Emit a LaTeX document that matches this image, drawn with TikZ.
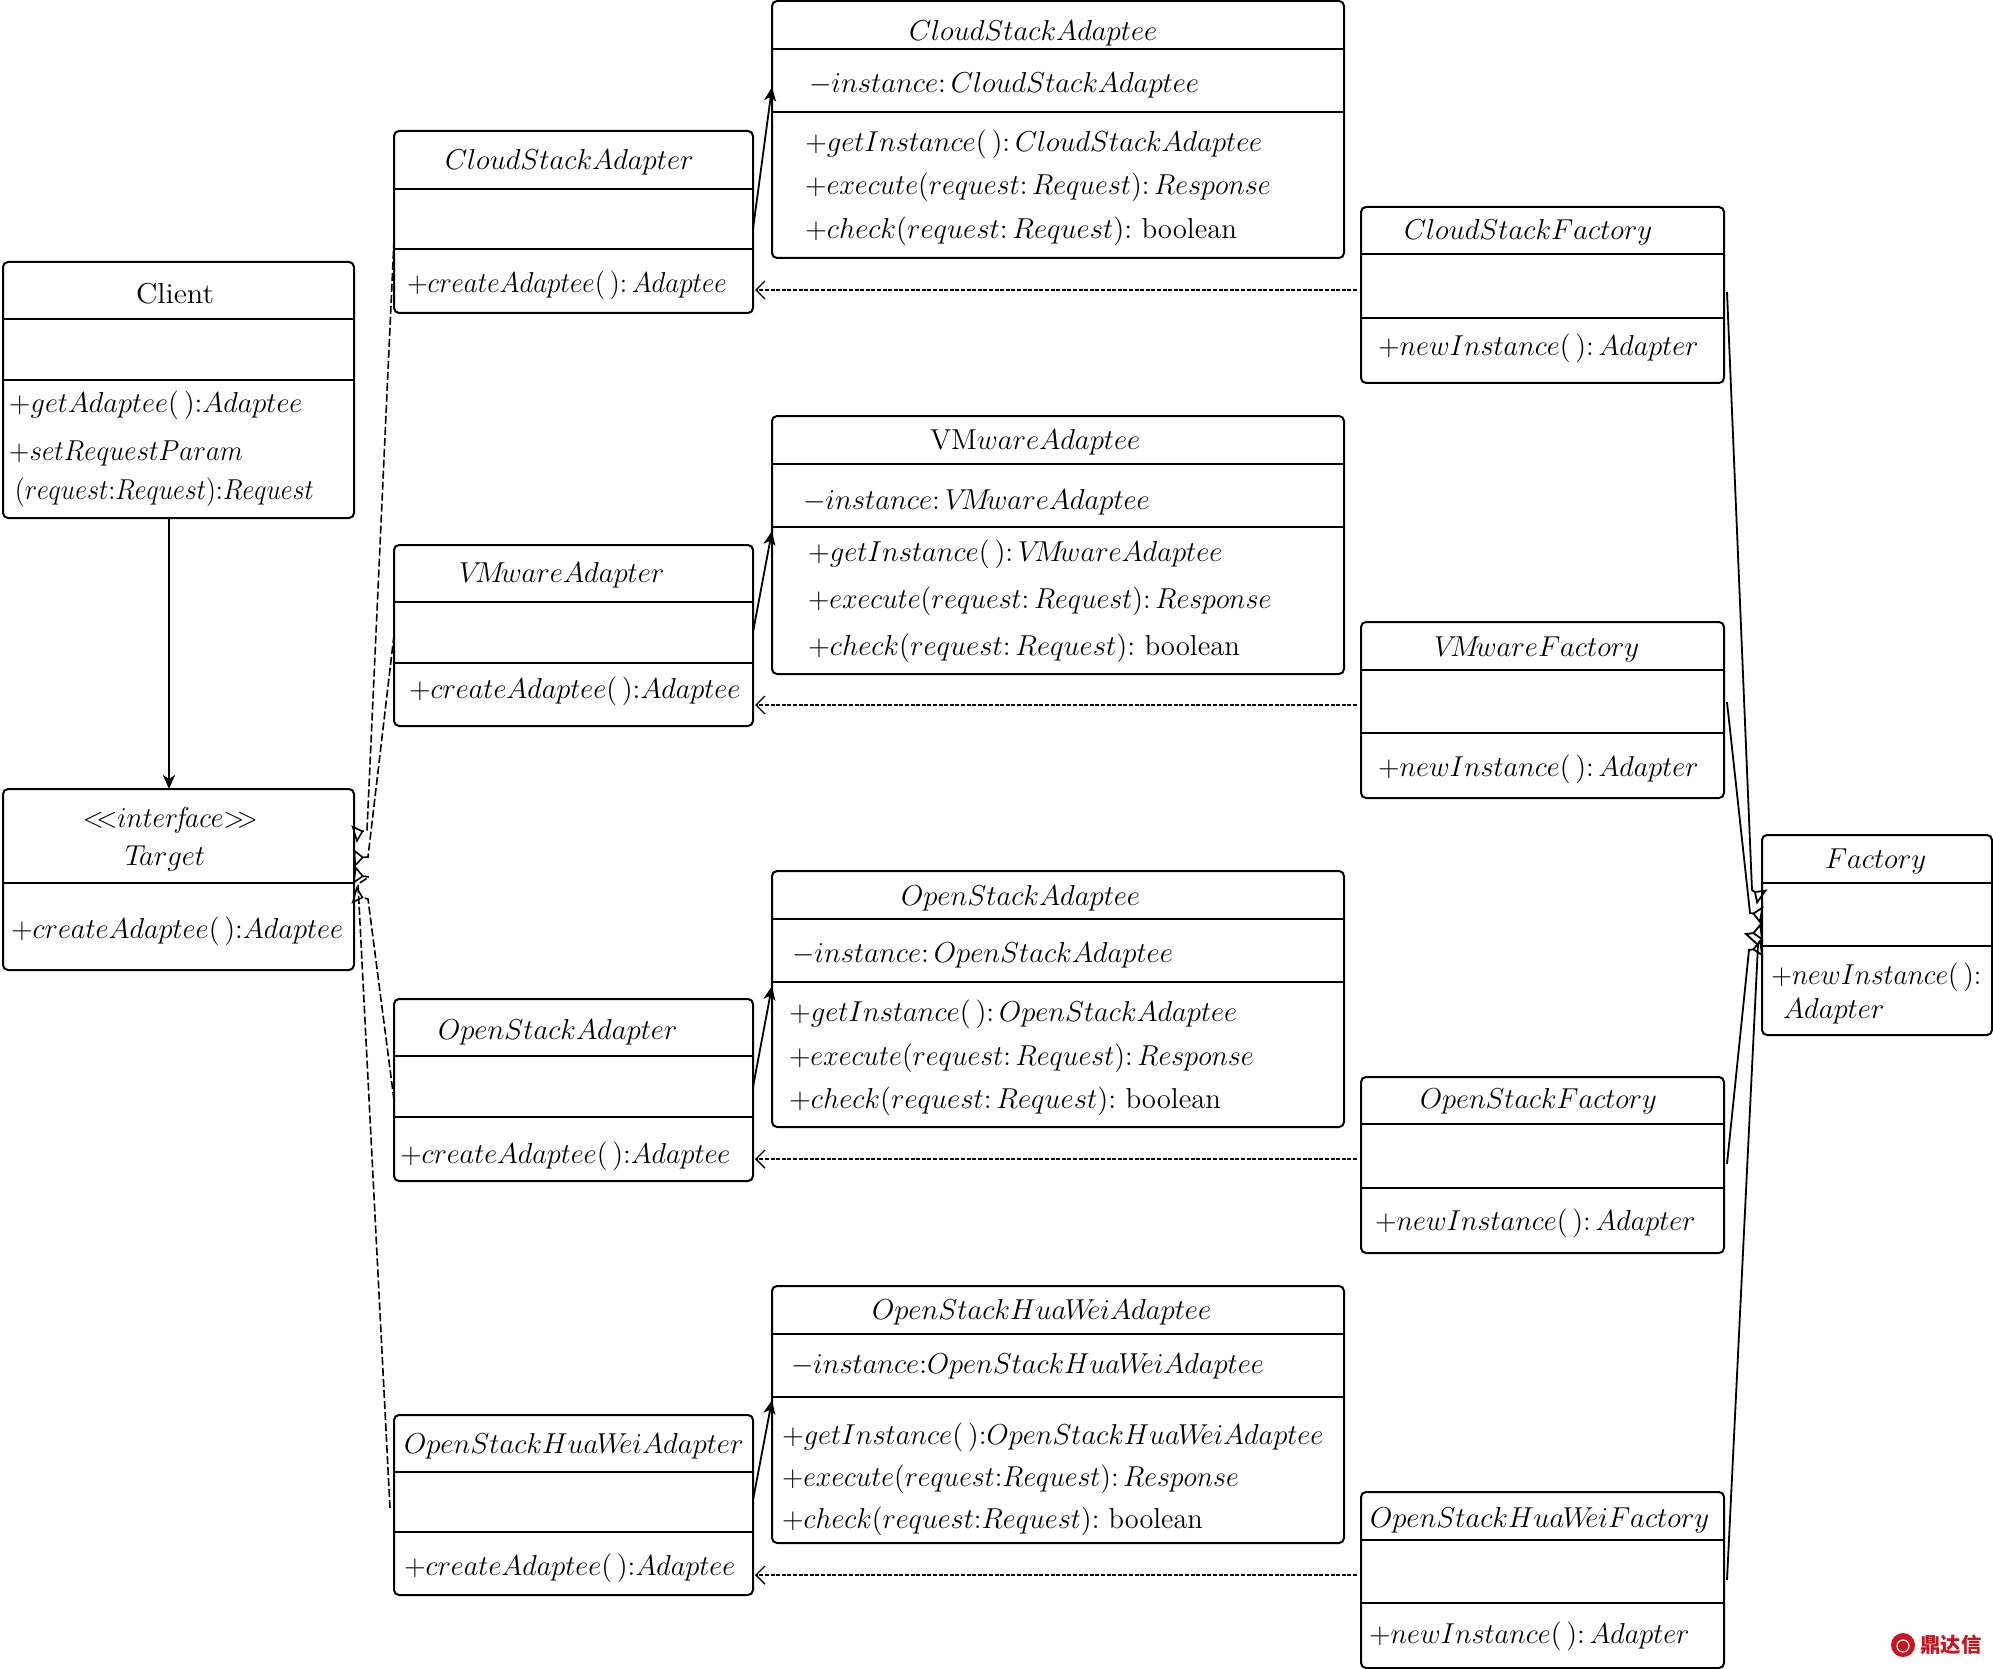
\documentclass[tikz,border=0pt]{standalone}
\usepackage{fontspec}
\usetikzlibrary{arrows.meta,fit}
\newfontfamily\cjk{Noto Sans CJK SC}
\definecolor{markred}{RGB}{200,20,30}
% class box: name, left, right, top, first rule, second rule, bottom
\newcommand{\umlbox}[7]{%
    \node[boxshape,fit={(#2,#4) (#3,#7)}] (#1) {};
    \draw[boxrule] (#2,#5) -- (#3,#5);
    \draw[boxrule] (#2,#6) -- (#3,#6);
}
% tighter spellings of what the plain math spacing leaves too wide
\newcommand{\sep}{\mkern3mu}
\newcommand{\VMw}{V\mkern-4mu M\mkern-3mu ware}
\newcommand{\HW}{Hua\mkern-1mu W\mkern-5mu ei}
\newcommand{\thin}[2]{\scalebox{#1}[1]{#2}}
\begin{document}
\begin{tikzpicture}[x=0.5pt,y=-0.5pt,
        boxshape/.style={draw,rounded corners=2.5pt,line width=1pt,inner sep=0pt,outer sep=0pt},
        boxrule/.style={line width=1pt},
        lab/.style={anchor=base west,inner sep=0pt,outer sep=0pt,font=\fontsize{14.4}{17}\selectfont},
        solidarrow/.style={line width=0.9pt,-{Stealth[length=7pt,width=6pt,inset=2pt]}},
        dasharrow/.style={line width=0.7pt,dash pattern=on 2pt off 0.8pt,-{Straight Barb[length=4.5pt,width=9pt]}},
        realize/.style={line width=0.8pt,dash pattern=on 4pt off 1.5pt,-{Triangle[open,reversed,length=5pt,width=9pt]}},
        inherit/.style={line width=0.9pt,-{Triangle[open,reversed,length=5pt,width=9pt]}}]
\useasboundingbox (0,0) rectangle (1993,1669);

\umlbox{client}{3}{354}{262}{319}{380}{518}
\umlbox{target}{3}{354}{789}{883}{883}{970}
\umlbox{cloudadapter}{394}{753}{131}{189}{249}{313}
\umlbox{vmwareadapter}{394}{753}{545}{602}{663}{726}
\umlbox{openadapter}{394}{753}{999}{1056}{1117}{1181}
\umlbox{huaweiadapter}{394}{753}{1415}{1472}{1532}{1595}
\umlbox{cloudadaptee}{772}{1344}{1}{49}{112}{258}
\umlbox{vmwareadaptee}{772}{1344}{416}{464}{527}{674}
\umlbox{openadaptee}{772}{1344}{871}{919}{982}{1127}
\umlbox{huaweiadaptee}{772}{1344}{1286}{1334}{1397}{1543}
\umlbox{cloudfactory}{1361}{1724}{207}{254}{318}{383}
\umlbox{vmwarefactory}{1361}{1724}{622}{670}{733}{798}
\umlbox{openfactory}{1361}{1724}{1077}{1124}{1188}{1253}
\umlbox{huaweifactory}{1361}{1724}{1492}{1540}{1603}{1668}
\umlbox{factory}{1762}{1992}{835}{883}{946}{1035}

\node[lab] (clienttitle) at (136,304) {\thin{1.05}{Client}};
\node[lab] (clientget) at (9,412) {\thin{0.99}{$+getAdaptee(\,){:}Adaptee$}};
\node[lab] (clientset) at (9,460) {\thin{0.94}{$+setRequestParam$}};
\node[lab] (clientparam) at (15,499) {\thin{0.9}{$(request{:}Request){:}Request$}};

\node[lab] (targetstereo) at (83,827) {\thin{0.96}{${<}\mkern-5mu{<}inter\mkern-3mu f\mkern-3mu ace{>}\mkern-5mu{>}$}};
\node[lab] (targettitle) at (125,865) {$T\mkern-4mu arget$};
\node[lab] (targetop) at (11,938) {\thin{0.99}{$+createAdaptee(\,){:}Adaptee$}};

\node[lab] (cloudadaptertitle) at (445,170) {$CloudStackAdapter$};
\node[lab] (cloudadapterop) at (407,293) {\thin{0.94}{$+createAdaptee(\,){:}\sep Adaptee$}};
\node[lab] (vmwareadaptertitle) at (459,582) {$\VMw Adapter$};
\node[lab] (vmwareadapterop) at (409,698) {\thin{0.988}{$+createAdaptee(\,){:}Adaptee$}};
\node[lab] (openadaptertitle) at (438,1039) {$OpenStackAdapter$};
\node[lab] (openadapterop) at (400,1163) {\thin{0.985}{$+createAdaptee(\,){:}Adaptee$}};
\node[lab] (huaweiadaptertitle) at (404,1453) {$OpenStack\HW Adapter$};
\node[lab] (huaweiadapterop) at (404,1575) {\thin{0.988}{$+createAdaptee(\,){:}Adaptee$}};

\node[lab] (cloudadapteetitle) at (909,41) {$CloudStackAdaptee$};
\node[lab] (cloudinstance) at (809,93) {$-instance{:}\sep CloudStackAdaptee$};
\node[lab] (cloudget) at (805,152) {\thin{0.996}{$+getInstance(\,){:}\sep CloudStackAdaptee$}};
\node[lab] (cloudexecute) at (805,195) {\thin{0.98}{$+execute(request{:}\sep Request){:}\sep Response$}};
\node[lab] (cloudcheck) at (805,239) {$+check(request{:}\sep Request){:}$ boolean};

\node[lab] (vmwareadapteetitle) at (930,450) {VM$wareAdaptee$};
\node[lab] (vmwareinstance) at (803,509) {$-instance{:}\sep\VMw Adaptee$};
\node[lab] (vmwareget) at (808,561) {\thin{0.996}{$+getInstance(\,){:}\sep\VMw Adaptee$}};
\node[lab] (vmwareexecute) at (808,608) {\thin{0.975}{$+execute(request{:}\sep Request){:}\sep Response$}};
\node[lab] (vmwarecheck) at (808,655) {$+check(request{:}\sep Request){:}$ boolean};

\node[lab] (openadapteetitle) at (901,905) {$OpenStackAdaptee$};
\node[lab] (openinstance) at (792,962) {$-instance{:}\sep OpenStackAdaptee$};
\node[lab] (openget) at (789,1021) {\thin{0.996}{$+getInstance(\,){:}\sep OpenStackAdaptee$}};
\node[lab] (openexecute) at (789,1065) {\thin{0.978}{$+execute(request{:}\sep Request){:}\sep Response$}};
\node[lab] (opencheck) at (789,1108) {$+check(request{:}\sep Request){:}$ boolean};

\node[lab] (huaweiadapteetitle) at (872,1319) {$OpenStack\HW Adaptee$};
\node[lab] (huaweiinstance) at (791,1373) {\thin{0.993}{$-instance{:}OpenStack\HW Adaptee$}};
\node[lab] (huaweiget) at (782,1444) {\thin{0.993}{$+getInstance(\,){:}OpenStack\HW Adaptee$}};
\node[lab] (huaweiexecute) at (782,1486) {\thin{0.971}{$+execute(request{:}Request){:}\sep Response$}};
\node[lab] (huaweicheck) at (782,1528) {\thin{0.985}{$+check(request{:}Request){:}$ boolean}};

\node[lab] (cloudfactorytitle) at (1404,240) {$CloudStackFactory$};
\node[lab] (cloudfactoryop) at (1378,356) {\thin{0.985}{$+newInstance(\,){:}\sep Adapter$}};
\node[lab] (vmwarefactorytitle) at (1434,656) {$\VMw Factory$};
\node[lab] (vmwarefactoryop) at (1378,776) {\thin{0.985}{$+newInstance(\,){:}\sep Adapter$}};
\node[lab] (openfactorytitle) at (1420,1108) {\thin{0.99}{$OpenStackFactory$}};
\node[lab] (openfactoryop) at (1375,1230) {\thin{0.985}{$+newInstance(\,){:}\sep Adapter$}};
\node[lab] (huaweifactorytitle) at (1370,1527) {$OpenStack\HW Factory$};
\node[lab] (huaweifactoryop) at (1369,1643) {\thin{0.985}{$+newInstance(\,){:}\sep Adapter$}};
\node[lab] (factorytitle) at (1825,868) {$Factory$};
\node[lab] (factoryop) at (1771,984) {\thin{0.96}{$+newInstance(\,){:}$}};
\node[lab] (factorytype) at (1783,1018) {$Adapter$};

\draw[solidarrow] (client.south -| 169,0) -- (target.north -| 169,0);

% adapter to adaptee, factory to adapter
\foreach \kind/\ya/\yb/\yd in {cloud/229/87/290,vmware/632/531/705,open/1087/986/1159,huawei/1500/1400/1575}{
    \draw[solidarrow] (\kind adapter.east |- 0,\ya) -- (\kind adaptee.west |- 0,\yb);
    \draw[dasharrow] ([xshift=-2pt]\kind factory.west |- 0,\yd) -- ([xshift=1pt]\kind adapter.east |- 0,\yd);
}

% realisations, open heads sit flat against the box
\draw[realize] (cloudadapter.west |- 0,240) -- (367,830) -- (target.east |- 0,834);
\draw[realize] (vmwareadapter.west |- 0,635) -- (368,857) -- (target.east |- 0,858);
\draw[realize] (openadapter.west |- 0,1100) -- (368,899) -- (target.east |- 0,895);
\draw[realize] ([xshift=-2pt]huaweiadapter.west |- 0,1508) -- (358,884) -- (369,877) -- (target.east |- 0,875);

\draw[inherit] ([xshift=1.5pt]cloudfactory.east |- 0,292) -- (1752,890) -- (factory.west |- 0,897);
\draw[inherit] ([xshift=1.5pt]vmwarefactory.east |- 0,702) -- (1750,913) -- (factory.west |- 0,915);
\draw[inherit] ([xshift=1.5pt]openfactory.east |- 0,1164) -- (1749,950) -- (factory.west |- 0,948);
\draw[inherit] ([xshift=1.5pt]huaweifactory.east |- 0,1580) -- (1758,945) -- (1746,934) -- (factory.west |- 0,932);

% watermark
\node[circle,fill=markred,minimum size=12pt,inner sep=0pt] (logo) at (1903,1645) {};
\node[circle,draw=white,line width=0.6pt,minimum size=6pt,inner sep=0pt] (logoring) at (1903,1646) {};
\node[anchor=west,inner sep=0pt,text=markred,font=\cjk\bfseries\fontsize{10.2}{12}\selectfont] (logotext) at (1920,1645) {鼎达信};
\end{tikzpicture}
\end{document}
